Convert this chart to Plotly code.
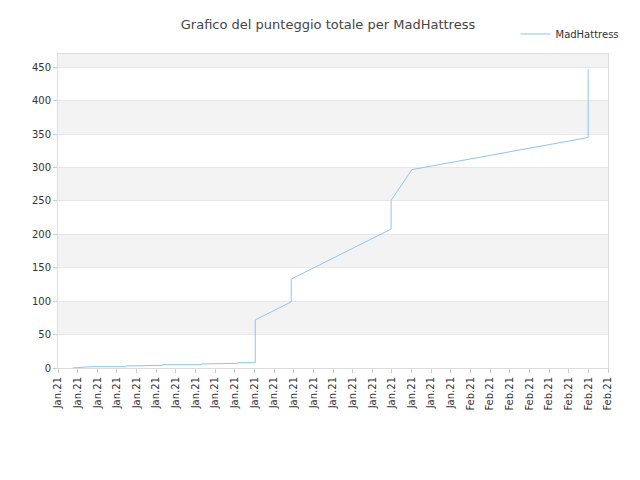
import plotly.graph_objects as go

# punteggio totale nel tempo
dates = ["2021-01-11 18:00", "2021-01-12 16:00", "2021-01-12 16:00", "2021-01-14 11:00",
         "2021-01-14 11:00", "2021-01-16 08:00", "2021-01-16 08:00", "2021-01-18 07:00",
         "2021-01-18 07:00", "2021-01-20 04:00", "2021-01-20 04:00", "2021-01-21 01:00",
         "2021-01-21 01:00", "2021-01-22 21:00", "2021-01-22 21:00", "2021-01-27 23:00",
         "2021-01-27 23:00", "2021-01-29 00:30", "2021-02-06 23:45", "2021-02-06 23:45"]
scores = [0, 1, 2, 2, 3, 4, 5, 5, 6, 7, 8, 8, 72, 99, 133, 208, 251, 297, 345, 447]
band_starts = [50, 150, 250, 350, 450]

fig = go.Figure(go.Scatter(x=dates, y=scores, mode='lines', name='MadHattress',
                           line=dict(color='#90c4f0', width=1)))

for b in band_starts:
    fig.add_shape(type='rect', xref='paper', yref='y', x0=0, x1=1, y0=b, y1=b + 50,
                  fillcolor='#f3f3f3', line_width=0, layer='below')

fig.update_layout(
    title=dict(text='Grafico del punteggio totale per MadHattress', x=0.5, y=0.975,
               font=dict(size=13, color='#444')),
    width=640, height=480,
    font=dict(family='DejaVu Sans', size=10, color='#333'),
    plot_bgcolor='white', paper_bgcolor='white',
    margin=dict(l=50, r=40, t=40, b=120),
    showlegend=True,
    legend=dict(x=1.03, y=1.11, xanchor='right', yanchor='top', font=dict(size=10)),
    xaxis=dict(range=['2021-01-11', '2021-02-08'], dtick=86400000, tickformat='%b.%y',
               tickangle=-90, showgrid=False, showline=True, linecolor='#ddd', mirror=True,
               ticks='outside', ticklen=4, tickcolor='#ccc', automargin=False),
    yaxis=dict(range=[0, 470], dtick=50, showgrid=True, gridcolor='#e6e6e6',
               showline=True, linecolor='#ddd', mirror=True, zeroline=False,
               ticks='outside', ticklen=4, tickcolor='#ccc', automargin=False),
)

fig.write_html("out.html")
